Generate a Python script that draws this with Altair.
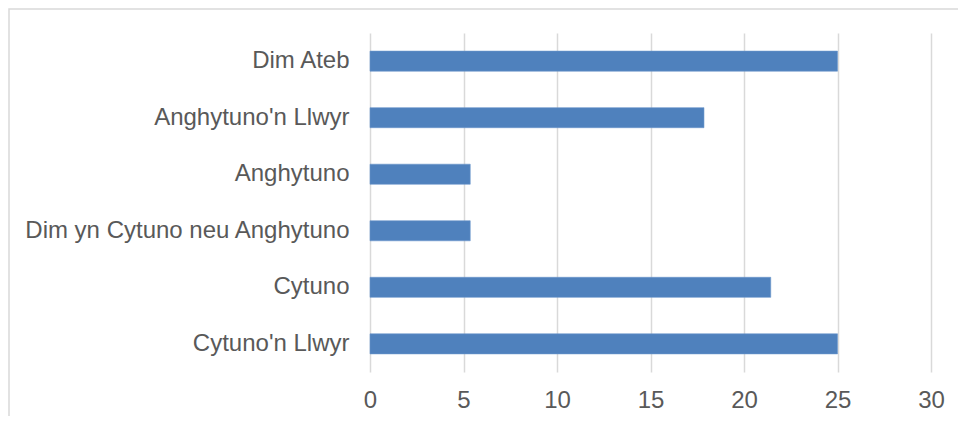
import altair as alt
import pandas as pd

categories = ["Dim Ateb", "Anghytuno'n Llwyr", "Anghytuno",
              "Dim yn Cytuno neu Anghytuno", "Cytuno", "Cytuno'n Llwyr"]
values = [25.0, 17.86, 5.36, 5.36, 21.43, 25.0]
x_ticks = [0, 5, 10, 15, 20, 25, 30]

df = pd.DataFrame({"category": categories, "value": values})

W, H = 561, 339
PAD_L, PAD_T, PAD_R, PAD_B = 362, 25, 27, 44
FONT = "Liberation Sans"
TXT = "#595959"
GRID = "#D9D9D9"

bars = alt.Chart(df).mark_bar(color="#4F81BD", stroke="#6A96CB", strokeWidth=0.6).encode(
    x=alt.X("value:Q",
            scale=alt.Scale(domain=[0, 30], nice=False),
            axis=alt.Axis(values=x_ticks, title=None, grid=True, gridColor=GRID,
                          gridWidth=1.5, domain=False, ticks=False,
                          labelFontSize=24, labelFont=FONT, labelColor=TXT,
                          labelPadding=16, labelFlush=False)),
    y=alt.Y("category:N", sort=categories,
            scale=alt.Scale(paddingInner=0.645, paddingOuter=0.32),
            axis=alt.Axis(title=None, domain=False, ticks=False, grid=False,
                          labelFontSize=24, labelFont=FONT, labelColor=TXT,
                          labelPadding=21, labelLimit=400)),
)

border = alt.Chart(pd.DataFrame({"b": [0]})).mark_rect(
    fill=None, stroke=GRID, strokeWidth=1.5
).encode(
    x=alt.value(-PAD_L + 1), x2=alt.value(W + PAD_R + 20),
    y=alt.value(-PAD_T + 1), y2=alt.value(H + PAD_B + 20),
)

chart = alt.layer(border, bars).properties(
    width=W, height=H,
    background="white",
    autosize=alt.AutoSizeParams(type="none"),
    padding={"left": PAD_L, "top": PAD_T, "right": PAD_R, "bottom": PAD_B},
).configure_view(stroke=None)

chart.save("out.html", embed_options={"renderer": "svg", "actions": False})
